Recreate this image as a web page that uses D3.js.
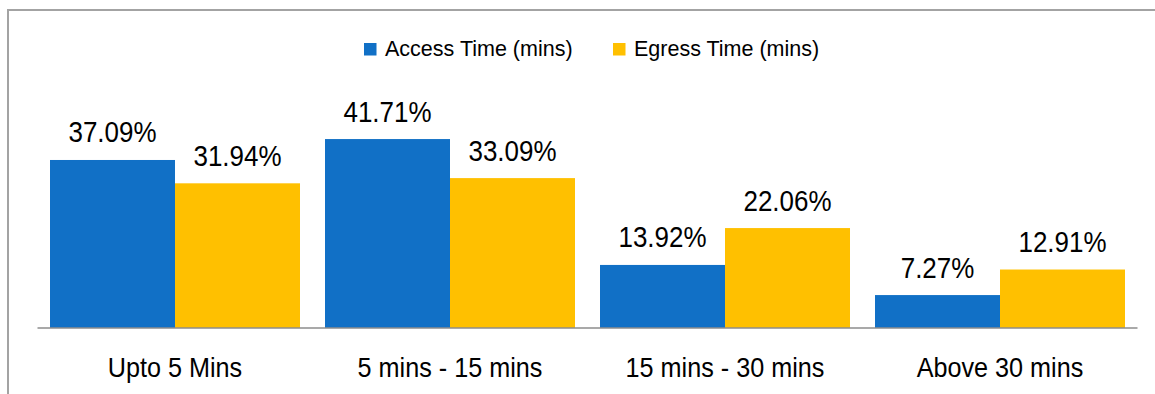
<!DOCTYPE html>
<html>
<head>
<meta charset="utf-8">
<script src="https://cdn.jsdelivr.net/npm/d3@7"></script>
<style>
  html, body { margin: 0; padding: 0; background: #fff; }
  svg { display: block; }
  text { font-family: "Liberation Sans", Arial, sans-serif; fill: #000; }
</style>
</head>
<body>
<svg id="chart" width="1155" height="394"></svg>
<script>
// Travel time bands and share of trips (%)
const categories = ["Upto 5 Mins", "5 mins - 15 mins", "15 mins - 30 mins", "Above 30 mins"];
const seriesNames = ["Access Time (mins)", "Egress Time (mins)"];
const accessValues = [37.09, 41.71, 13.92, 7.27];
const egressValues = [31.94, 33.09, 22.06, 12.91];
const seriesColors = ["#1170c6", "#ffc000"];

const data = categories.map((c, i) => ({
  category: c,
  values: [
    { series: seriesNames[0], value: accessValues[i] },
    { series: seriesNames[1], value: egressValues[i] }
  ]
}));

const W = 1155, H = 394;
const svg = d3.select("#chart");

// outer frame
svg.append("rect")
  .attr("x", 8).attr("y", 10)
  .attr("width", W + 20).attr("height", H + 20)
  .attr("fill", "none")
  .attr("stroke", "#a3a3a3")
  .attr("stroke-width", 2);

const plot = { left: 37.5, right: 1137.5, baseline: 328 };

const x0 = d3.scaleBand()
  .domain(categories)
  .range([plot.left, plot.right])
  .paddingInner(25 / 275)
  .paddingOuter(12.5 / 275);

const x1 = d3.scaleBand()
  .domain(seriesNames)
  .range([0, x0.bandwidth()]);

const y = d3.scaleLinear()
  .domain([0, 45])
  .range([plot.baseline, plot.baseline - 45 * 4.53]);

const color = d3.scaleOrdinal().domain(seriesNames).range(seriesColors);

const groups = svg.append("g")
  .selectAll("g")
  .data(data)
  .join("g")
  .attr("transform", d => `translate(${x0(d.category)},0)`);

groups.selectAll("rect")
  .data(d => d.values)
  .join("rect")
  .attr("x", d => x1(d.series))
  .attr("y", d => y(d.value))
  .attr("width", x1.bandwidth())
  .attr("height", d => y(0) - y(d.value))
  .attr("fill", d => color(d.series));

// value labels, set in a condensed face
groups.selectAll("text.val")
  .data(d => d.values)
  .join("text")
  .attr("class", "val")
  .attr("transform", d =>
    `translate(${x1(d.series) + x1.bandwidth() / 2},${y(d.value) - 17.5}) scale(0.88,1)`)
  .attr("text-anchor", "middle")
  .attr("font-size", 29.5)
  .text(d => d.value.toFixed(2) + "%");

// category axis
const xAxis = d3.axisBottom(x0).tickSize(0).tickPadding(0);
const axisG = svg.append("g")
  .attr("transform", `translate(0,${plot.baseline})`)
  .call(xAxis);
axisG.select(".domain")
  .attr("d", `M${plot.left},0H${plot.right}`)
  .attr("stroke", "#8c8c8c")
  .attr("stroke-width", 1.6);
axisG.selectAll(".tick text")
  .attr("y", 0)
  .attr("dy", 0)
  .attr("transform", "translate(0,49) scale(0.9,1)")
  .attr("font-size", 28)
  .attr("font-family", null)
  .attr("fill", "#000");

// legend
const legendItems = [
  { name: seriesNames[0], x: 364 },
  { name: seriesNames[1], x: 613 }
];
const legend = svg.append("g");
const li = legend.selectAll("g").data(legendItems).join("g")
  .attr("transform", d => `translate(${d.x},43)`);
li.append("rect")
  .attr("width", 12.5).attr("height", 12.5)
  .attr("fill", d => color(d.name));
li.append("text")
  .attr("x", 21).attr("y", 12.5)
  .attr("font-size", 21.5)
  .text(d => d.name);
</script>
</body>
</html>
